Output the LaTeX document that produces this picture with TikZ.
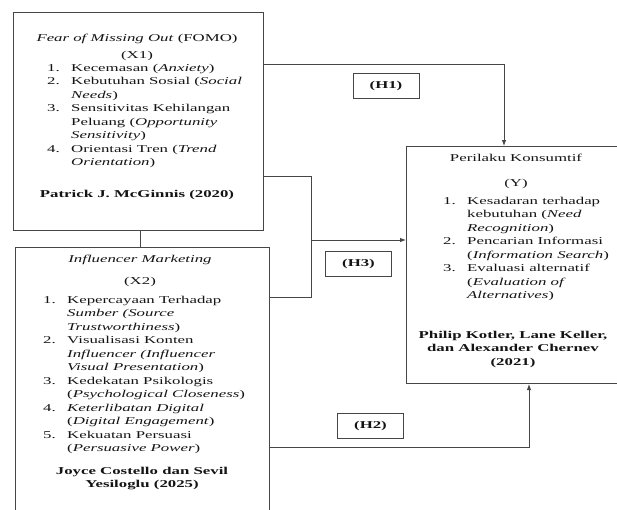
\documentclass[tikz,border=0pt]{standalone}
\usepackage{fontspec}
\setmainfont[FakeStretch=1.6]{Liberation Serif}
\usepackage{tikz}
\usetikzlibrary{arrows.meta, positioning, calc}
\definecolor{lineGray}{RGB}{70,70,70}
\definecolor{textGray}{RGB}{20,20,20}
\newlength{\numw}
\setlength{\numw}{24pt}
\newcommand{\num}[1]{\makebox[\numw][l]{#1}}
\newcommand{\cont}{\hspace*{\numw}}

\begin{document}
\begin{tikzpicture}[
    x=1pt, y=-1pt,
    font=\fontsize{10.5}{13.5}\selectfont,
    every node/.style={inner sep=0pt, text=textGray},
    varbox/.style={draw=lineGray, line width=1pt, anchor=north west},
    hypbox/.style={draw=lineGray, line width=0.9pt, minimum width=66pt, minimum height=25pt},
    title/.style={anchor=base},
    itemlist/.style={align=left, anchor=north west},
    source/.style={align=center, anchor=north},
    link/.style={draw=lineGray, line width=0.9pt},
    arrowlink/.style={link, -{Latex[length=6pt, width=4.5pt]}},
]
\useasboundingbox (0,0) rectangle (617,509);
\clip (0,0) rectangle (617,509);
\node[varbox, minimum width=250pt, minimum height=218pt] (Xone) at (13,12) {};
\node[varbox, minimum width=254pt, minimum height=280pt] (Xtwo) at (15,247) {};
\node[varbox, minimum width=225pt, minimum height=237pt] (Ybox) at (406,146) {};
\node[title] (Xonetitle) at (137,41) {\textit{Fear of Missing Out} (FOMO)};
\node[title] (Xonelabel) at (137,58) {(X1)};
\node[itemlist] (Xonelist) at (47,64) {\num{1.}Kecemasan (\textit{Anxiety})\\
\num{2.}Kebutuhan Sosial (\textit{Social}\\
\cont\textit{Needs})\\
\num{3.}Sensitivitas Kehilangan\\
\cont Peluang (\textit{Opportunity}\\
\cont\textit{Sensitivity})\\
\num{4.}Orientasi Tren (\textit{Trend}\\
\cont\textit{Orientation})};
\node[title] (Xonesource) at (137,197) {\bfseries Patrick J. McGinnis (2020)};
\node[title] (Xtwotitle) at (140,262) {\textit{Influencer Marketing}};
\node[title] (Xtwolabel) at (140,284) {(X2)};
\node[itemlist] (Xtwolist) at (43,296) {\num{1.}Kepercayaan Terhadap\\
\cont\textit{Sumber (Source}\\
\cont\textit{Trustworthiness})\\
\num{2.}Visualisasi Konten\\
\cont\textit{Influencer (Influencer}\\
\cont\textit{Visual Presentation})\\
\num{3.}Kedekatan Psikologis\\
\cont(\textit{Psychological Closeness})\\
\num{4.}\textit{Keterlibatan Digital}\\
\cont(\textit{Digital Engagement})\\
\num{5.}Kekuatan Persuasi\\
\cont(\textit{Persuasive Power})};
\node[source] (Xtwosource) at (142,467) {\bfseries Joyce Costello dan Sevil\\ \bfseries Yesiloglu (2025)};
\node[title] (Ytitle) at (516,161) {Perilaku Konsumtif};
\node[title] (Ylabel) at (516,186) {(Y)};
\node[itemlist] (Ylist) at (443,197) {\num{1.}Kesadaran terhadap\\
\cont kebutuhan (\textit{Need}\\
\cont\textit{Recognition})\\
\num{2.}Pencarian Informasi\\
\cont(\textit{Information Search})\\
\num{3.}Evaluasi alternatif\\
\cont(\textit{Evaluation of}\\
\cont\textit{Alternatives})};
\node[source] (Ysource) at (513,331) {\bfseries Philip Kotler, Lane Keller,\\ \bfseries dan Alexander Chernev\\ \bfseries (2021)};
\node[hypbox] (Hone) at (386,85.5) {\bfseries (H1)};
\node[hypbox] (Hthree) at (358.5,264) {\bfseries (H3)};
\node[hypbox] (Htwo) at (370.5,425.5) {\bfseries (H2)};
\coordinate (Xlink) at (140,238);
\coordinate (Honeturn) at (504,64);
\coordinate (Hthreetop) at (311,176);
\coordinate (Hthreebot) at (311,297);
\coordinate (Hthreejoin) at (311,240);
\coordinate (Htwoturn) at (529,447);
\draw[link] (Xone.south -| Xlink) -- (Xtwo.north -| Xlink);
\draw[arrowlink] (Xone.east |- Honeturn) -- (Honeturn) -- (Ybox.north -| Honeturn);
\draw[link] (Xone.east |- Hthreetop) -- (Hthreetop) -- (Hthreebot) -- (Xtwo.east |- Hthreebot);
\draw[arrowlink] (Hthreejoin) -- (Ybox.west |- Hthreejoin);
\draw[arrowlink] (Xtwo.east |- Htwoturn) -- (Htwoturn) -- (Ybox.south -| Htwoturn);
\end{tikzpicture}
\end{document}
